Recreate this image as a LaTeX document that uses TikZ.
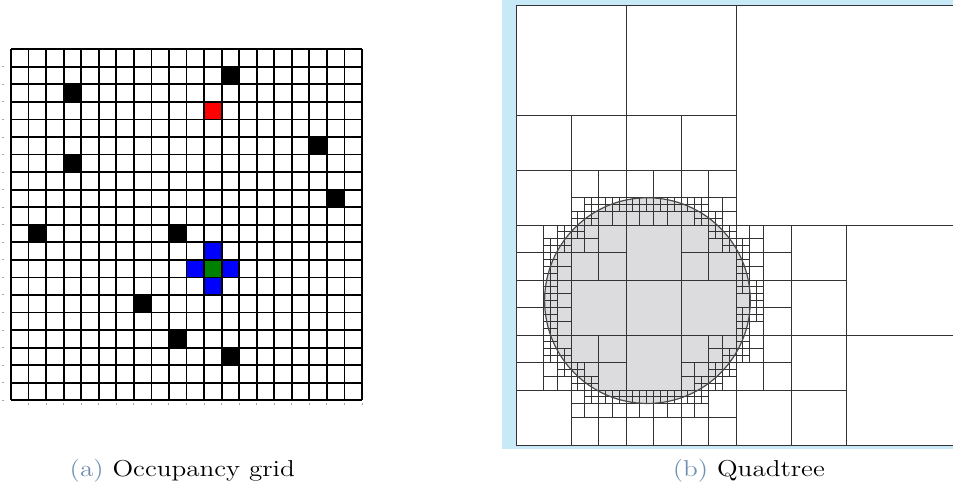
\documentclass[tikz,border=0pt]{standalone}
\usepackage{xcolor}
\usepackage{tikz}
\usetikzlibrary{positioning}
\definecolor{gridred}{HTML}{FF0000}
\definecolor{gridblue}{HTML}{0000FF}
\definecolor{gridgreen}{HTML}{008000}
\definecolor{qtframe}{HTML}{C8E9F8}
\definecolor{qtdisc}{HTML}{DCDCDE}
\definecolor{qtedge}{HTML}{4A4A4A}
\definecolor{caplabel}{HTML}{7090B0}
\tikzstyle{gridline} = [line width=0.9pt, black]
\tikzstyle{gridtick} = [line width=0.5pt, black!35]
\tikzstyle{qtline} = [line width=0.45pt, black!80]
\tikzstyle{caption} = [anchor=base, inner sep=0pt, xscale=1.18, font=\fontsize{11.5}{13}\selectfont]

\def\qtcx{4.78}
\def\qtcy{10.75}
\def\qtr{3.74}
\newcommand\qtcell[3]{%
  \pgfmathsetmacro\qtnx{max(#1,min(\qtcx,#1+#3))}%
  \pgfmathsetmacro\qtny{max(#2,min(\qtcy,#2+#3))}%
  \pgfmathsetmacro\qtdmin{veclen(\qtnx-\qtcx,\qtny-\qtcy)}%
  \pgfmathsetmacro\qtfx{max(abs(#1-\qtcx),abs(#1+#3-\qtcx))}%
  \pgfmathsetmacro\qtfy{max(abs(#2-\qtcy),abs(#2+#3-\qtcy))}%
  \pgfmathsetmacro\qtdmax{veclen(\qtfx,\qtfy)}%
  \pgfmathtruncatemacro\qtsplit{(\qtdmin<\qtr)&&(\qtdmax>\qtr)&&(#3>0.3)?1:0}%
  \ifnum\qtsplit=1
    \pgfmathsetmacro\qth{#3/2}%
    \pgfmathsetmacro\qtxm{#1+\qth}%
    \pgfmathsetmacro\qtym{#2+\qth}%
    \edef\qtnext{\noexpand\qtcell{#1}{#2}{\qth}\noexpand\qtcell{\qtxm}{#2}{\qth}%
      \noexpand\qtcell{#1}{\qtym}{\qth}\noexpand\qtcell{\qtxm}{\qtym}{\qth}}%
    \qtnext
  \else
    \draw[qtline] (#1,#2) rectangle ++(#3,#3);
  \fi
}

\begin{document}
\begin{tikzpicture}[x=0.5pt, y=-0.5pt]
\useasboundingbox (0,0) rectangle (953,491);

\begin{scope}[shift={(11,49.3)}, x=8.775pt, y=-8.775pt]
\foreach \c/\r in {12/1,3/2,17/5,3/6,18/8,1/10,9/10,7/14,9/16,12/17}
  \fill[black] (\c,\r) rectangle ++(1,1);
\fill[gridred] (11,3) rectangle ++(1,1);
\foreach \c/\r in {11/11,10/12,12/12,11/13}
  \fill[gridblue] (\c,\r) rectangle ++(1,1);
\fill[gridgreen] (11,12) rectangle ++(1,1);
\foreach \k in {0,...,20} {
  \draw[gridline] (\k,0) -- (\k,20);
  \draw[gridline] (0,\k) -- (20,\k);
}
\foreach \k in {1,...,20} {
  \draw[gridtick] (-0.38,\k) -- ++(-0.12,0);
  \draw[gridtick] (\k,20.15) -- ++(0,0.1);
}
\end{scope}

\begin{scope}
\clip (502,0) rectangle (953,450);
\fill[qtframe] (502,0) rectangle (953,449.5);
\fill[white] (516,5) rectangle (957,445);
\begin{scope}[shift={(516,5)}, x=13.75pt, y=-13.75pt]
\fill[qtdisc] (\qtcx,\qtcy) circle [radius=\qtr];
\qtcell{0}{0}{16}
\draw[qtedge, line width=0.6pt] (\qtcx,\qtcy) circle [radius=\qtr];
\end{scope}
\end{scope}

\node[caption] (capa) at (182.3,476.5) {\textcolor{caplabel}{(a)} Occupancy grid};
\node[caption] (capb) at (748.8,476.5) {\textcolor{caplabel}{(b)} Quadtree};
\end{tikzpicture}
\end{document}
